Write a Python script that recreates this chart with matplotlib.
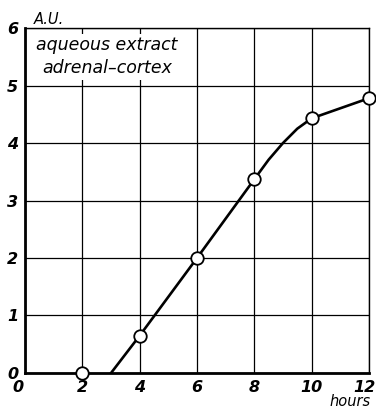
import matplotlib.pyplot as plt
import matplotlib.transforms as mtransforms

# measured points (circles)
horas = [2, 4, 6, 8, 10, 12]
unidades = [0.0, 0.65, 2.0, 3.37, 4.43, 4.78]

# drawn curve
curvaX = [3, 4, 6, 8, 8.5, 9, 9.5, 10, 12]
curvaY = [0.0, 0.65, 2.0, 3.37, 3.71, 4.0, 4.25, 4.43, 4.78]

marcasX = [0, 2, 4, 6, 8, 10, 12]
marcasY = [0, 1, 2, 3, 4, 5, 6]

fig = plt.figure(figsize=(3.76, 4.08), dpi=100)
ax = fig.add_axes([0.067, 0.086, 0.914, 0.845])

ax.set_xlim(0, 12)
ax.set_ylim(0, 6)
ax.set_xticks(marcasX)
ax.set_yticks(marcasY)
ax.grid(True, color='k', linewidth=0.9)
ax.set_axisbelow(True)

fuente = dict(style='italic', weight='bold', family='DejaVu Sans', size=11.5)
ax.set_xticklabels([str(m) for m in marcasX], **fuente)
ax.set_yticklabels([str(m) for m in marcasY], **fuente)
ax.tick_params(length=0, pad=5)
# nudge the first and last hour labels
etiquetas = ax.get_xticklabels()
etiquetas[0].set_transform(etiquetas[0].get_transform() +
                           mtransforms.ScaledTranslation(-5 / 72, 0, fig.dpi_scale_trans))
etiquetas[-1].set_transform(etiquetas[-1].get_transform() +
                            mtransforms.ScaledTranslation(-3 / 72, 0, fig.dpi_scale_trans))

for lado in ['left', 'bottom']:
    ax.spines[lado].set_linewidth(2)
for lado in ['top', 'right']:
    ax.spines[lado].set_linewidth(1)

ax.plot(curvaX, curvaY, color='k', linewidth=1.9, zorder=3)
ax.scatter(horas, unidades, s=81, facecolor='white', edgecolor='k',
           linewidth=1.3, zorder=4, clip_on=False)

# label box over the grid
ax.text(2.85, 5.5, 'aqueous extract\nadrenal\u2013cortex', ha='center', va='center',
        style='italic', family='DejaVu Sans', size=12.5, linespacing=1.35,
        bbox=dict(facecolor='white', edgecolor='none', pad=2), zorder=5)

ax.text(0.3, 6.02, 'A.U.', ha='left', va='bottom', style='italic', family='DejaVu Sans', size=10.5)
ax.text(12.05, -0.37, 'hours', ha='right', va='top', style='italic', family='DejaVu Sans', size=10.5)

plt.savefig('out.png', dpi=100)
